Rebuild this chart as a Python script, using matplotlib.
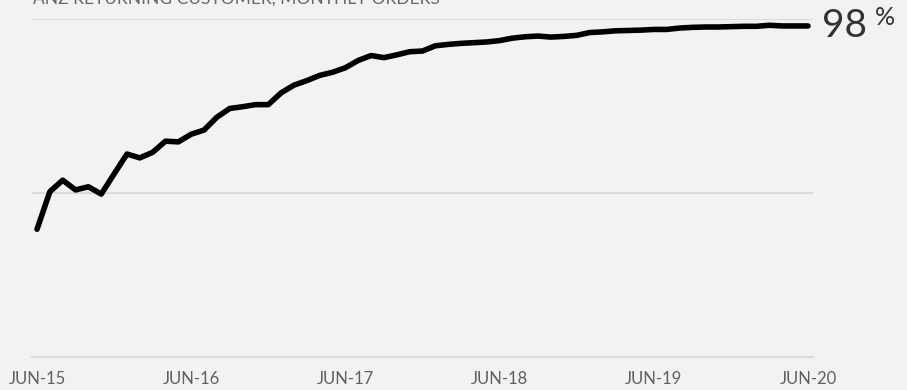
import matplotlib
matplotlib.use("Agg")
import matplotlib.pyplot as plt
import numpy as np

# ── Colours ─────────────────────────────────────────────────────────
C_BG = "#F2F2F2"
C_GRID = "#DADADA"
C_LINE = "#000000"
C_TICK = "#606060"
C_TITLE = "#666666"
C_BIG = "#333333"

plt.rcParams["font.family"] = ["Lato", "DejaVu Sans"]

# ── Data: share of returning customers, monthly (Jun-15 .. Jun-20) ──
returning_pct = [
    39.6, 50.4, 53.7, 50.9, 51.8, 49.7, 55.5, 61.2, 60.1, 61.7, 64.9, 64.7,
    66.9, 68.1, 71.8, 74.3, 74.8, 75.4, 75.4, 78.8, 81.0, 82.3, 83.8, 84.7,
    86.0, 88.1, 89.5, 88.9, 89.7, 90.6, 90.8, 92.3, 92.7, 93.0, 93.2, 93.4,
    93.8, 94.5, 94.9, 95.1, 94.8, 95.0, 95.3, 96.1, 96.3, 96.6, 96.7, 96.8,
    97.0, 97.0, 97.4, 97.6, 97.7, 97.7, 97.8, 97.9, 97.9, 98.2, 98.0, 98.0,
    98.0,
]
tick_months = [0, 12, 24, 36, 48, 60]
tick_labels = ["JUN-15", "JUN-16", "JUN-17", "JUN-18", "JUN-19", "JUN-20"]
grid_values = [50, 100]
title = "ANZ RETURNING CUSTOMER, MONTHLY ORDERS"

W, H = 907, 390
fig = plt.figure(figsize=(W / 100, H / 100), dpi=100, facecolor=C_BG)
ax = fig.add_axes([32 / W, (H - 357) / H, 781 / W, 338 / H], facecolor=C_BG)

months = np.arange(len(returning_pct))
ax.plot(months, returning_pct, color=C_LINE, linewidth=4,
        solid_joinstyle="round", solid_capstyle="round", clip_on=False, zorder=3)

ax.set_xlim(-0.39, len(returning_pct) - 1 + 0.39)
ax.set_ylim(2.9, 100)

# Gridlines + baseline
for g in grid_values:
    ax.axhline(g, color=C_GRID, linewidth=1.5, zorder=1)
for s in ["top", "right", "left"]:
    ax.spines[s].set_visible(False)
ax.spines["bottom"].set_color(C_GRID)
ax.spines["bottom"].set_linewidth(1.5)

ax.set_yticks([])
ax.set_xticks(tick_months)
ax.set_xticklabels(tick_labels, fontsize=12, color=C_TICK)
ax.tick_params(axis="x", length=0, pad=10)

# Final value callout
final = returning_pct[-1]
ax.annotate(f"{final:.0f}", xy=(months[-1], final), xytext=(14, 0),
            textcoords="offset pixels", fontsize=28, color=C_BIG,
            va="center", ha="left", annotation_clip=False)
ax.annotate("%", xy=(months[-1], final), xytext=(67, 8),
            textcoords="offset pixels", fontsize=18, color=C_BIG,
            va="center", ha="left", annotation_clip=False)

fig.text(33 / W, 1 - 3.5 / H, title, fontsize=12.5, color=C_TITLE,
         va="baseline", ha="left")

fig.savefig("out.png", dpi=100, facecolor=C_BG)
